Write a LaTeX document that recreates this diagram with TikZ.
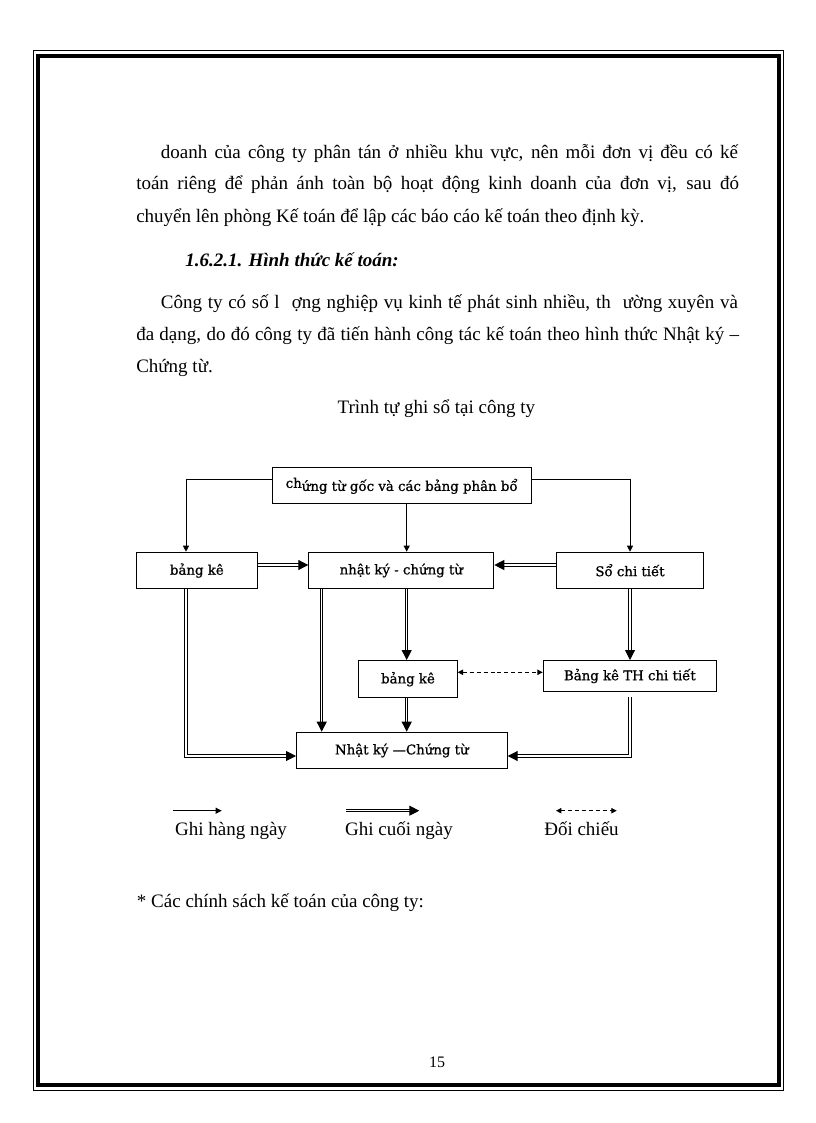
\documentclass[tikz,border=0pt]{standalone}
\usepackage{fontspec}
\setmainfont{Liberation Serif}
\newfontfamily\boxfont{DejaVu Serif}[FakeBold=0.9]
\usetikzlibrary{arrows.meta,calc}
\newdimen\px \px=0.75pt
\tikzset{
  bx/.style={draw, line width=0.75pt, inner sep=0pt, anchor=north west,
    font=\boxfont\fontsize{10}{12}\selectfont},
  sarr/.style={line width=0.75pt, -{Triangle[length=4.5pt,width=4.5pt]}},
  darr/.style={double, line width=0.75pt, double distance=1pt,
    -{Triangle[length=7.5pt,width=7.5pt]}},
  dsh/.style={line width=0.75pt, dash pattern=on 3pt off 2.2pt,
    {Triangle[length=4pt,width=4pt]}-{Triangle[length=4pt,width=4pt]}},
  txt/.style={inner sep=0pt, anchor=base west, font=\fontsize{14.25}{17}\selectfont},
  ctxt/.style={inner sep=0pt, anchor=base, font=\fontsize{14.25}{17}\selectfont}
}
\begin{document}
\begin{tikzpicture}[x=0.75pt,y=-0.75pt]
\useasboundingbox (0,0) rectangle (816,1123);
% page frame
\draw[line width=0.75pt] (33,50.5) rectangle (783.5,1090);
\draw[line width=3pt] (38.2,56.3) rectangle (779.3,1085.3);

% body text
\node[txt] (l1) at (160.7,158.3) {\makebox[577\px][s]{doanh của công ty phân tán ở nhiều khu vực, nên mỗi đơn vị đều có kế}};
\node[txt] (l2) at (136,190) {\makebox[602.7\px][s]{toán riêng để phản ánh toàn bộ hoạt động kinh doanh của đơn vị, sau đó}};
\node[txt] (l3) at (136,222.7) {chuyển lên phòng Kế toán để lập các báo cáo kế toán theo định kỳ.};
\node[txt, font=\fontsize{14.25}{17}\selectfont\bfseries\itshape] (hd) at (185,267) {1.6.2.1. Hình thức kế toán:};
\node[txt] (p1) at (160.7,308) {\makebox[577\px][s]{Công ty có số l\hspace{12\px}ợng nghiệp vụ kinh tế phát sinh nhiều, th\hspace{12\px}ường xuyên và}};
\node[txt] (p2) at (136,340) {\makebox[602.7\px][s]{đa dạng, do đó công ty đã tiến hành công tác kế toán theo hình thức Nhật ký –}};
\node[txt] (p3) at (136,372.7) {Chứng từ.};
\node[txt] (ttl) at (337.3,413) {Trình tự ghi sổ tại công ty};

% boxes
\node[bx, minimum width=259*\px, minimum height=36*\px] (top) at (271.7,467.3) {\raisebox{3\px}{ch}ứng từ gốc và các bảng phân bổ};
\node[bx, minimum width=120.7*\px, minimum height=36.6*\px] (bk1) at (136,551.7) {bảng kê};
\node[bx, minimum width=185*\px, minimum height=36.6*\px] (nk) at (308.3,551.7) {nhật ký - chứng từ};
\node[bx, minimum width=147.6*\px, minimum height=36*\px] (sct) at (555.7,551.7) {Sổ chi tiết};
\node[bx, minimum width=98.4*\px, minimum height=37.3*\px] (bk2) at (358.3,660) {bảng kê};
\node[bx, minimum width=173.3*\px, minimum height=31*\px] (th) at (542.7,660) {Bảng kê TH chi tiết};
\node[bx, minimum width=210.7*\px, minimum height=36.6*\px] (nkct) at (296,731.7) {Nhật ký —Chứng từ};

% helper coordinates
\coordinate (cL) at (186,0);
\coordinate (cA) at (321.7,0);
\coordinate (cM) at (406.7,0);
\coordinate (cR) at (630,0);
\coordinate (yT) at (0,479.3);
\coordinate (yH) at (0,565);
\coordinate (yB) at (0,756);
\coordinate (yD) at (0,672.3);

% connectors
\draw[sarr] (top.west |- yT) -| (cL |- bk1.north);
\draw[sarr] (cM |- top.south) -- (cM |- nk.north);
\draw[sarr] (top.east |- yT) -| (cR |- sct.north);
\draw[darr] (bk1.east |- yH) -- (nk.west |- yH);
\draw[darr] (sct.west |- yH) -- (nk.east |- yH);
\draw[darr] (cA |- nk.south) -- (cA |- nkct.north);
\draw[darr] (cM |- nk.south) -- (cM |- bk2.north);
\draw[darr] (cM |- bk2.south) -- (cM |- nkct.north);
\draw[darr] (cL |- bk1.south) |- (nkct.west |- yB);
\draw[darr] (cR |- sct.south) -- (cR |- th.north);
\draw[darr, shorten <=4pt] (cR |- th.south) |- (nkct.east |- yB);
\draw[dsh] (bk2.east |- yD) -- (th.west |- yD);

% legend
\coordinate (g1a) at (173.3,810.7);
\coordinate (g1b) at (221.7,810.7);
\coordinate (g2a) at (346,810.7);
\coordinate (g2b) at (419.3,810.7);
\coordinate (g3a) at (556,810.7);
\coordinate (g3b) at (616.7,810.7);
\draw[sarr] (g1a) -- (g1b);
\draw[darr] (g2a) -- (g2b);
\draw[dsh] (g3a) -- (g3b);
\node[ctxt] (t1) at (231,835) {Ghi hàng ngày};
\node[ctxt] (t2) at (399,835) {Ghi cuối ngày};
\node[ctxt] (t3) at (581.5,835) {Đối chiếu};

\node[txt] (pol) at (136.7,907.7) {* Các chính sách kế toán của công ty:};
\node[inner sep=0pt, anchor=base, font=\fontsize{12}{14}\selectfont] (pg) at (437,1067) {15};
\end{tikzpicture}
\end{document}
